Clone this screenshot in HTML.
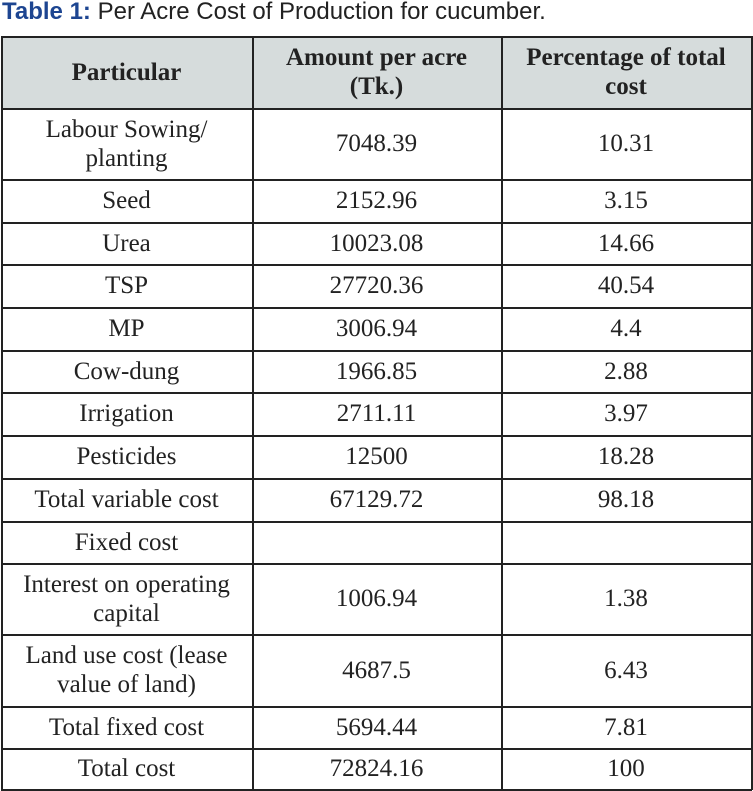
<!DOCTYPE html>
<html><head><style>
body{margin:0;width:753px;height:791px;background:#fff;position:relative;overflow:hidden}
.t{position:absolute;left:2px;top:-2px;font:24px "Liberation Sans",sans-serif;color:#222;white-space:nowrap}
.t b{color:#1d4591}
.c{position:absolute;display:flex;align-items:center;justify-content:center;text-align:center;font:25px/29px "Liberation Serif",serif;color:#222;box-sizing:border-box}
.h{background:#d6dcdc;font-weight:bold}
.hl{position:absolute;left:1px;width:751px;height:2px;background:#222}
.vl{position:absolute;top:36px;width:2px;height:754px;background:#222}
</style></head><body>
<div class="t"><b>Table 1:</b> Per Acre Cost of Production for cucumber.</div>
<div id="g"></div>
<script>
var rows=[[36,108,"Particular","Amount per acre<br>(Tk.)","Percentage of total<br>cost"],
[108,179,"Labour Sowing/<br>planting","7048.39","10.31"],
[179,222,"Seed","2152.96","3.15"],
[222,264,"Urea","10023.08","14.66"],
[264,307,"TSP","27720.36","40.54"],
[307,350,"MP","3006.94","4.4"],
[350,392,"Cow-dung","1966.85","2.88"],
[392,435,"Irrigation","2711.11","3.97"],
[435,478,"Pesticides","12500","18.28"],
[478,521,"Total variable cost","67129.72","98.18"],
[521,563,"Fixed cost","",""],
[563,634,"Interest on operating<br>capital","1006.94","1.38"],
[634,706,"Land use cost (lease<br>value of land)","4687.5","6.43"],
[706,748,"Total fixed cost","5694.44","7.81"],
[748,789,"Total cost","72824.16","100"]];
var xs=[1,252,501,751],h="";
rows.forEach(function(r,i){for(var j=0;j<3;j++){h+='<div class="c'+(i==0?' h':'')+'" style="left:'+xs[j]+'px;top:'+r[0]+'px;width:'+(xs[j+1]-xs[j])+'px;height:'+(r[1]-r[0])+'px">'+r[j+2]+'</div>';}
h+='<div class="hl" style="top:'+r[0]+'px"></div>';});
h+='<div class="hl" style="top:789px"></div>';
xs.forEach(function(x){h+='<div class="vl" style="left:'+x+'px"></div>';});
document.getElementById("g").innerHTML=h;
</script>
</body></html>
